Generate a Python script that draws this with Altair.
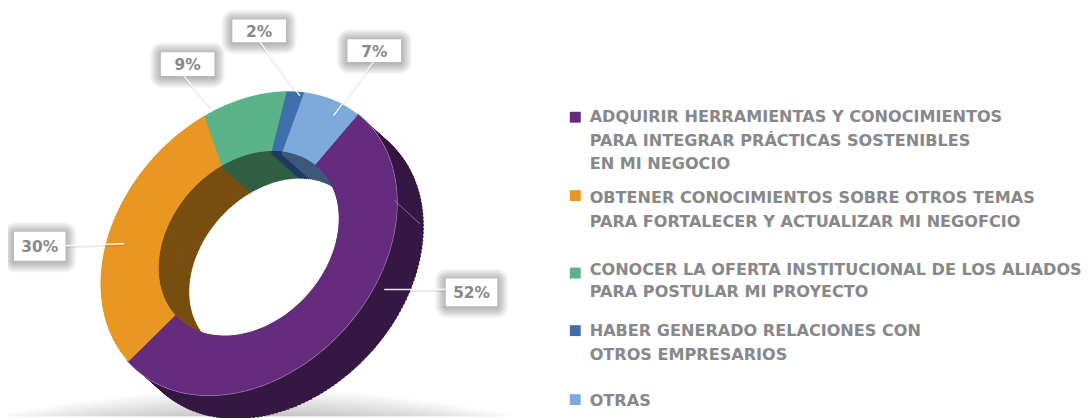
import math
import altair as alt
import pandas as pd

categories = ["Adquirir", "Obtener", "Conocer", "Haber", "Otras"]
values = [52, 30, 9, 2, 7]
face_colors = ["#652c7e", "#e89722", "#5cb389", "#3f6fad", "#7daadb"]
wall_colors = ["#351843", "#784f10", "#315f45", "#1f3a63", "#3f5a78"]
legend_lines = [
    ["ADQUIRIR HERRAMIENTAS Y CONOCIMIENTOS", "PARA INTEGRAR PRÁCTICAS SOSTENIBLES", "EN MI NEGOCIO"],
    ["OBTENER CONOCIMIENTOS SOBRE OTROS TEMAS", "PARA FORTALECER Y ACTUALIZAR MI NEGOFCIO"],
    ["CONOCER LA OFERTA INSTITUCIONAL DE LOS ALIADOS", "PARA POSTULAR MI PROYECTO"],
    ["HABER GENERADO RELACIONES CON", "OTROS EMPRESARIOS"],
    ["OTRAS"],
]
legend_y = [[116, 140, 164], [198, 222], [270, 293], [332, 356], [402]]
legend_sq_y = [116.5, 195.5, 273.5, 331.5, 401]
label_text = ["52%", "30%", "9%", "2%", "7%"]

OFF = 8
label_box = [(449, 501, 279, 307), (14, 66, 232, 261), (162, 216, 51, 75), (234, 288, 18, 41), (350, 404, 38, 61)]
label_lead = [(449, 290, 387, 290), (66, 246, 125, 244), (185, 75, 213, 107), (262, 41, 302, 95), (376, 61, 336, 115)]

CX, CY = 250.5 - OFF, 243.5 - OFF
A, B = 170.0, 129.0          # tilted face ellipse, semi axes
TILT = math.radians(42)      # long axis, clockwise from the top
HOLE = 0.61
DX, DY = 27, 24              # depth of the ring
PHI0 = math.radians(-2.6)
FONT = "DejaVu Sans"
TEXT = "#87888a"
TWO_PI = 2 * math.pi
OVERLAP = 0.012


def wedges(step_deg):
    """Cut each value's share of the ring into thin wedges that follow the tilted ellipse."""
    out = []
    cum = 0.0
    total = sum(values)
    for i, v in enumerate(values):
        p0 = PHI0 + TWO_PI * cum / total
        p1 = PHI0 + TWO_PI * (cum + v) / total
        cum += v
        n = max(2, round(math.degrees(p1 - p0) / step_deg))
        for j in range(n):
            a0 = p0 + (p1 - p0) * j / n
            a1 = p0 + (p1 - p0) * (j + 1) / n
            t0 = (TILT + math.atan2(B * math.sin(a0), A * math.cos(a0))) % TWO_PI
            t1 = (TILT + math.atan2(B * math.sin(a1), A * math.cos(a1))) % TWO_PI
            if t1 < t0:
                t1 += TWO_PI
            m = (a0 + a1) / 2
            rad = math.hypot(A * math.cos(m), B * math.sin(m))
            last = i == len(values) - 1 and j == n - 1
            out.append((i, t0, t1 + (0 if last else OVERLAP), rad))
    return out


rows = []
fine = wedges(0.5)
coarse = wedges(1.5)
STEPS = 14
for k in range(STEPS, -1, -1):          # outer wall: only the long purple share faces the viewer
    fx, fy = k / STEPS * DX, k / STEPS * DY
    for i, t0, t1, rad in coarse:
        if i == 0:
            rows.append(dict(t0=t0, t1=t1, ro=rad, ri=rad - 6, px=CX + fx, py=CY + fy, c=wall_colors[i]))
for k in range(STEPS, -1, -1):          # inner wall: the purple share faces away from the viewer
    fx, fy = k / STEPS * DX, k / STEPS * DY
    for i, t0, t1, rad in coarse:
        if i != 0:
            rows.append(dict(t0=t0, t1=t1, ro=rad * HOLE + 1, ri=rad * HOLE - 4, px=CX + fx, py=CY + fy, c=wall_colors[i]))
for i, t0, t1, rad in fine:             # pale rim of the purple share
    if i == 0:
        rows.append(dict(t0=t0, t1=t1, ro=rad + 0.8, ri=rad, px=CX, py=CY, c="#9c7fab"))
for i, t0, t1, rad in fine:             # top face
    rows.append(dict(t0=t0, t1=t1, ro=rad, ri=rad * HOLE, px=CX, py=CY, c=face_colors[i]))
ring = pd.DataFrame(rows).round(4)

one = pd.DataFrame({"a": [1]})
layers = []

# floor shadow
for i in range(12):
    big = 1300
    top = 391 + i * 2.4 - OFF
    layers.append(alt.Chart(one).mark_arc(outerRadius=big, innerRadius=0, theta=0, theta2=TWO_PI,
                                          color="#000000", opacity=0.02, clip=True)
                  .encode(x=alt.value(CX + 8), y=alt.value(top + big)))

layers.append(alt.Chart(ring).mark_arc().encode(
    theta=alt.Theta("t0:Q", scale=None), theta2=alt.Theta2("t1:Q"),
    radius=alt.Radius("ro:Q", scale=None), radius2=alt.Radius2("ri:Q"),
    x=alt.X("px:Q", scale=None), y=alt.Y("py:Q", scale=None),
    color=alt.Color("c:N", scale=None)))

# seam on the dark wall
layers.append(alt.Chart(one).mark_rule(color="#9c7fab", strokeWidth=0.8)
              .encode(x=alt.value(397 - OFF), x2=alt.value(423 - OFF), y=alt.value(200 - OFF), y2=alt.value(224 - OFF)))

# value labels with soft shadow and leader
for txt, (x0, x1, y0, y1), (lx0, ly0, lx1, ly1) in zip(label_text, label_box, label_lead):
    x0, x1, y0, y1 = x0 - OFF, x1 - OFF, y0 - OFF, y1 - OFF
    for e in range(11, 0, -1):
        layers.append(alt.Chart(one).mark_rect(color="#000000", opacity=0.027, cornerRadius=e + 1)
                      .encode(x=alt.value(x0 - e), x2=alt.value(x1 + e), y=alt.value(y0 - e + 1), y2=alt.value(y1 + e + 1)))
    layers.append(alt.Chart(one).mark_rule(color="#000000", opacity=0.08, strokeWidth=3)
                  .encode(x=alt.value(lx0 - OFF), x2=alt.value(lx1 - OFF), y=alt.value(ly0 - OFF + 1), y2=alt.value(ly1 - OFF + 1)))
    layers.append(alt.Chart(one).mark_rule(color="#ffffff", opacity=0.9, strokeWidth=1.5)
                  .encode(x=alt.value(lx0 - OFF), x2=alt.value(lx1 - OFF), y=alt.value(ly0 - OFF), y2=alt.value(ly1 - OFF)))
    layers.append(alt.Chart(one).mark_rect(color="#ffffff")
                  .encode(x=alt.value(x0), x2=alt.value(x1), y=alt.value(y0), y2=alt.value(y1)))
    layers.append(alt.Chart(one).mark_text(text=txt, font=FONT, fontWeight=700, fontSize=15.5, color=TEXT,
                                           align="center", baseline="middle")
                  .encode(x=alt.value((x0 + x1) / 2), y=alt.value((y0 + y1) / 2 + 1)))

# legend
for lines, ys, sq, col in zip(legend_lines, legend_y, legend_sq_y, face_colors):
    layers.append(alt.Chart(one).mark_square(size=121, color=col, opacity=1)
                  .encode(x=alt.value(579.5 - OFF), y=alt.value(sq - OFF)))
    for line, y in zip(lines, ys):
        layers.append(alt.Chart(one).mark_text(text=line, font=FONT, fontWeight=700, fontSize=16.2, color=TEXT,
                                               align="left", baseline="middle")
                      .encode(x=alt.value(594 - OFF), y=alt.value(y - OFF)))

chart = alt.layer(*layers).properties(
    width=1084, height=410, padding=0, autosize=alt.AutoSizeParams(type="none"), background="#ffffff"
).configure_view(stroke=None)

chart.save("out.html", embed_options={"renderer": "svg", "actions": False})
